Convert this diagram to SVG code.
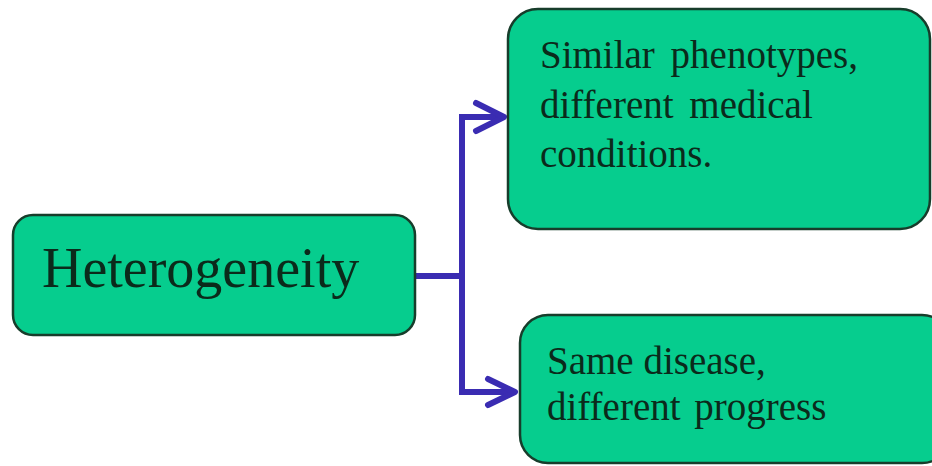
<svg xmlns="http://www.w3.org/2000/svg" width="932" height="466" viewBox="0 0 932 466">
  <style>
    .box { fill: #06cd8e; stroke: #173d2b; stroke-width: 2.5; }
    .lbl { font-family: "Liberation Serif", "Times New Roman", serif; fill: #0b2a1b; }
    .wire { fill: none; stroke: #3a2cb2; stroke-width: 6; stroke-linejoin: miter; }
    .head { fill: none; stroke: #3a2cb2; stroke-width: 6; stroke-linecap: round; stroke-linejoin: round; }
  </style>
  <rect width="932" height="466" fill="#ffffff"/>

  <g id="connectors">
    <path class="wire" d="M415 276 H462 V117 H503"/>
    <path class="wire" d="M462 276 V392 H514"/>
    <path class="head" d="M476 103 L504 117 L476 131"/>
    <path class="head" d="M488 379 L515 392 L488 405"/>
  </g>

  <g id="heterogeneity">
    <rect class="box" x="13" y="215" width="402" height="120" rx="20"/>
    <text class="lbl" x="42" y="287" font-size="56">Heterogeneity</text>
  </g>

  <g id="similar-phenotypes">
    <rect class="box" x="508" y="9" width="422" height="220" rx="30"/>
    <text class="lbl" font-size="39">
      <tspan x="540" y="68" word-spacing="6">Similar phenotypes,</tspan>
      <tspan x="540" y="118" word-spacing="6">different medical</tspan>
      <tspan x="540" y="167">conditions.</tspan>
    </text>
  </g>

  <g id="same-disease">
    <rect class="box" x="520" y="315" width="430" height="148" rx="28"/>
    <text class="lbl" font-size="39">
      <tspan x="547" y="374">Same disease,</tspan>
      <tspan x="547" y="420" word-spacing="4">different progress</tspan>
    </text>
  </g>
</svg>
